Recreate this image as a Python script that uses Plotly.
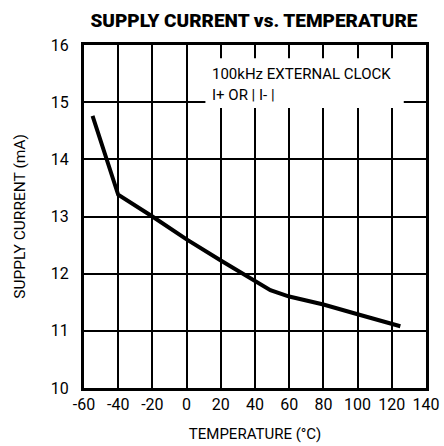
import plotly.graph_objects as go

# Data
temperature_c = [-55, -40, -20, 0, 20, 40, 49, 60, 80, 100, 125]
supply_current_ma = [14.76, 13.38, 13.0, 12.6, 12.23, 11.88, 11.71, 11.6, 11.46, 11.29, 11.08]

x_ticks = [-60, -40, -20, 0, 20, 40, 60, 80, 100, 120, 140]
y_ticks = [10, 11, 12, 13, 14, 15, 16]

NARROW = "Roboto, Liberation Sans Narrow, sans-serif"

fig = go.Figure()
fig.add_trace(go.Scatter(
    x=temperature_c, y=supply_current_ma, mode="lines",
    line=dict(color="black", width=4), showlegend=False,
))

# white box behind the note
fig.add_shape(type="rect", xref="x", yref="y", x0=11, x1=127, y0=14.9, y1=15.77,
              fillcolor="white", line=dict(width=0), layer="above")

fig.add_annotation(x=13.5, y=15.49, xref="x", yref="y", text="100kHz EXTERNAL CLOCK",
                   showarrow=False, xanchor="left", yanchor="middle",
                   font=dict(family=NARROW, size=15, color="black"))
fig.add_annotation(x=13.5, y=15.12, xref="x", yref="y", text="I+ OR | I- |",
                   showarrow=False, xanchor="left", yanchor="middle",
                   font=dict(family=NARROW, size=15, color="black"))

axis_common = dict(
    showgrid=True, gridcolor="black", gridwidth=1.5,
    showline=True, linecolor="black", linewidth=3, mirror=True,
    zeroline=False, ticks="", automargin=False,
    tickfont=dict(family=NARROW, size=16, color="black"),
)

fig.update_xaxes(range=[-60, 140], tickvals=x_ticks, ticktext=[str(v) for v in x_ticks],
                 title=dict(text="TEMPERATURE (°C)", standoff=16,
                            font=dict(family=NARROW, size=15, color="black")),
                 **axis_common)
fig.update_yaxes(range=[10, 16], tickvals=y_ticks, ticktext=[str(v) for v in y_ticks],
                 ticklabelstandoff=9,
                 title=dict(text="SUPPLY CURRENT (mA)", standoff=22,
                            font=dict(family=NARROW, size=15.5, color="black")),
                 **axis_common)

fig.update_layout(
    width=444, height=446,
    margin=dict(l=84, r=18, t=45, b=58),
    paper_bgcolor="white", plot_bgcolor="white",
    title=dict(text="SUPPLY CURRENT vs. TEMPERATURE", x=0.572, xanchor="center",
               y=0.955, yanchor="middle",
               font=dict(family=NARROW, size=19, color="black", weight=900)),
)

fig.write_html("out.html", config={"displayModeBar": False},
               post_script="document.body.style.margin='0px';document.body.style.overflow='hidden';")
